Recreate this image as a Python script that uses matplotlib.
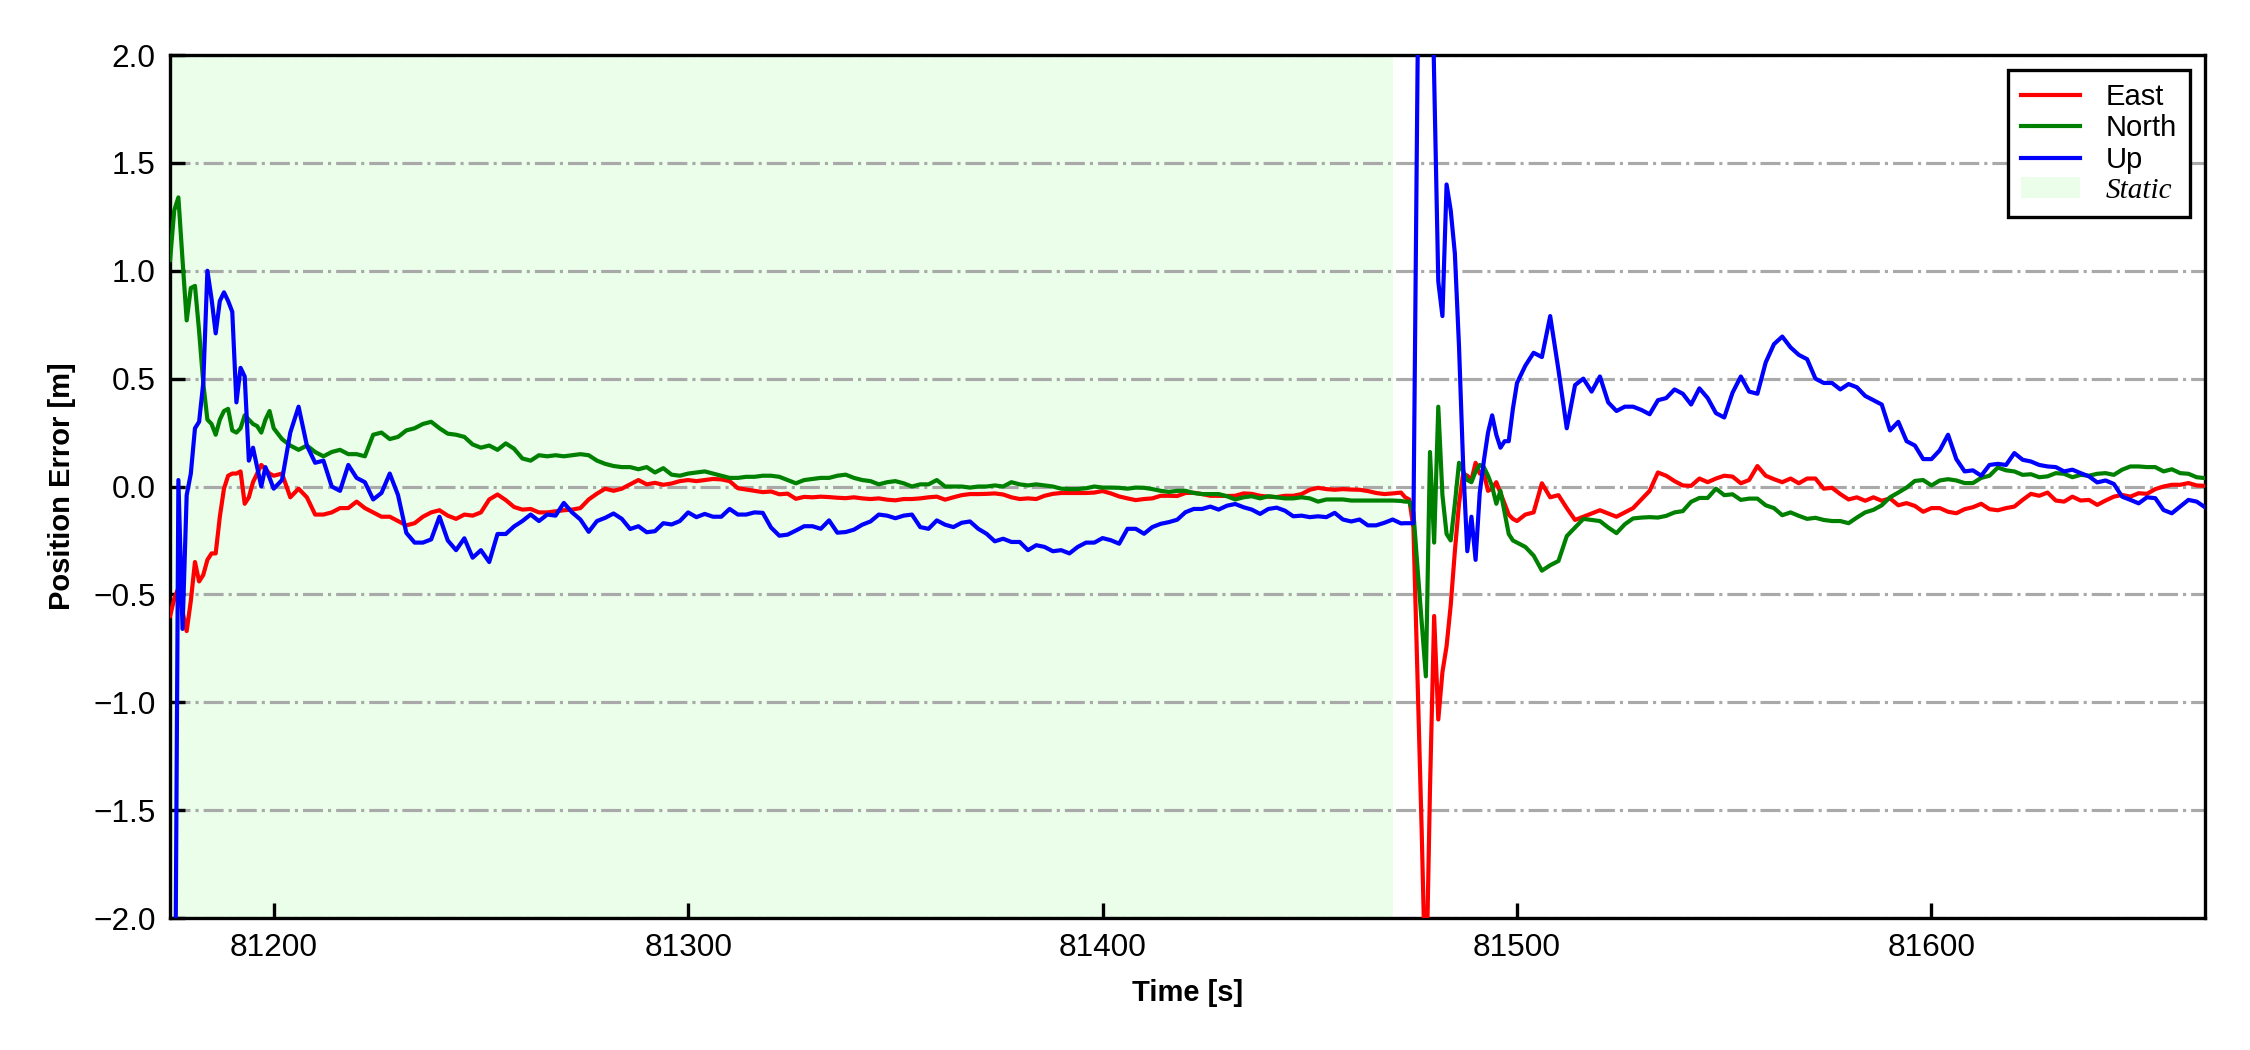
import numpy as np
import matplotlib
matplotlib.use("Agg")
import matplotlib.pyplot as plt
from matplotlib.patches import Patch

plt.rcParams['font.family'] = ['Liberation Sans', 'DejaVu Sans']

# sampling grid: 1 s at the start and around the re-convergence, 2 s elsewhere
time_segments = [(81175, 81200, 1), (81202, 81472, 2), (81473, 81500, 1), (81502, 81666, 2)]
time = np.concatenate([np.arange(a, b + 1, s) for a, b, s in time_segments])

static_start = 81175
static_end = 81470

east = [
    # 81175-81200
    -0.60, -0.52, -0.47, -0.58, -0.67, -0.53, -0.35, -0.44, -0.41, -0.34, -0.31, -0.31, -0.14,
    -0.01, 0.05, 0.06, 0.06, 0.07, -0.08, -0.05, 0.02, 0.06, 0.10, 0.08, 0.06, 0.05,
    # 81202-81472
    0.06, -0.05, -0.01, -0.05, -0.13, -0.13, -0.12, -0.10, -0.10, -0.07, -0.10, -0.12, -0.14, -0.14, -0.16,
    -0.18, -0.17, -0.14, -0.12, -0.11, -0.135, -0.15, -0.13, -0.135, -0.12,
    -0.06, -0.037, -0.063, -0.095, -0.107, -0.104, -0.12, -0.12, -0.115, -0.11,
    -0.107, -0.1, -0.06, -0.033, -0.01, -0.02, -0.01, 0.01, 0.03, 0.01,
    0.017, 0.008, 0.014, 0.025, 0.03, 0.025, 0.03, 0.035, 0.033, 0.025,
    -0.008, -0.014, -0.02, -0.026, -0.023, -0.036, -0.033, -0.057, -0.048, -0.05,
    -0.047, -0.049, -0.052, -0.054, -0.05, -0.055, -0.058, -0.055, -0.061, -0.064,
    -0.058, -0.058, -0.055, -0.05, -0.047, -0.061, -0.05, -0.04, -0.035, -0.035,
    -0.034, -0.032, -0.037, -0.05, -0.058, -0.055, -0.058, -0.043, -0.034, -0.03,
    -0.03, -0.03, -0.03, -0.028, -0.021, -0.032, -0.046, -0.055, -0.063, -0.058,
    -0.055, -0.043, -0.043, -0.044, -0.03, -0.029, -0.035, -0.043, -0.043, -0.044,
    -0.043, -0.032, -0.034, -0.043, -0.047, -0.049, -0.043, -0.043, -0.035, -0.015,
    -0.006, -0.012, -0.015, -0.012, -0.014, -0.015, -0.021, -0.03, -0.035, -0.032, -0.028,
    # 81473-81500
    -0.05, -0.06, -0.19, -0.9, -1.6, -2.4, -1.4, -0.6, -1.08, -0.86, -0.74, -0.55, -0.30, -0.08,
    0.06, 0.05, 0.03, 0.11, 0.06, 0.06, -0.02, -0.01, 0.02, -0.03, -0.08, -0.13, -0.15, -0.16,
    # 81502-81666
    -0.13, -0.12, 0.015, -0.05, -0.04, -0.10, -0.155, -0.14, -0.125, -0.11,
    -0.125, -0.14, -0.12, -0.10, -0.06, -0.02, 0.065, 0.05, 0.025, 0.005,
    0.003, 0.037, 0.02, 0.037, 0.05, 0.046, 0.015, 0.03, 0.095, 0.05,
    0.034, 0.02, 0.037, 0.015, 0.037, 0.037, -0.01, -0.006, -0.035, -0.06,
    -0.05, -0.066, -0.05, -0.066, -0.055, -0.087, -0.077, -0.09, -0.117, -0.10,
    -0.10, -0.117, -0.124, -0.105, -0.096, -0.08, -0.105, -0.11, -0.10, -0.093,
    -0.062, -0.034, -0.043, -0.028, -0.065, -0.07, -0.047, -0.065, -0.062, -0.085,
    -0.065, -0.047, -0.039, -0.047, -0.031, -0.034, -0.012, 0.0, 0.008, 0.008,
    0.016, 0.005, 0.003,
]

north = [
    # 81175-81200
    1.05, 1.28, 1.34, 1.05, 0.77, 0.92, 0.93, 0.72, 0.48, 0.31, 0.29, 0.24, 0.31,
    0.35, 0.36, 0.26, 0.25, 0.27, 0.33, 0.31, 0.29, 0.28, 0.25, 0.31, 0.35, 0.27,
    # 81202-81472
    0.22, 0.19, 0.17, 0.19, 0.16, 0.14, 0.16, 0.17, 0.15, 0.15, 0.14, 0.24, 0.25, 0.22, 0.23,
    0.26, 0.27, 0.29, 0.30, 0.27, 0.245, 0.24, 0.23, 0.195, 0.18,
    0.19, 0.17, 0.20, 0.175, 0.13, 0.12, 0.145, 0.14, 0.145, 0.14,
    0.145, 0.15, 0.145, 0.12, 0.105, 0.095, 0.09, 0.09, 0.08, 0.09,
    0.065, 0.085, 0.055, 0.05, 0.06, 0.065, 0.07, 0.06, 0.05, 0.04,
    0.04, 0.045, 0.045, 0.05, 0.05, 0.045, 0.03, 0.015, 0.03, 0.035,
    0.04, 0.04, 0.05, 0.055, 0.04, 0.03, 0.025, 0.01, 0.02, 0.025,
    0.015, 0.0, 0.01, 0.01, 0.03, 0.0, 0.0, 0.0, -0.005, 0.0,
    0.0, 0.005, 0.0, 0.02, 0.01, 0.005, 0.01, 0.005, 0.0, -0.01,
    -0.012, -0.012, -0.008, 0.0, -0.005, -0.005, -0.006, -0.01, -0.005, -0.006,
    -0.012, -0.02, -0.025, -0.02, -0.02, -0.03, -0.035, -0.035, -0.035, -0.045,
    -0.06, -0.05, -0.045, -0.055, -0.045, -0.05, -0.055, -0.055, -0.05, -0.055,
    -0.07, -0.06, -0.06, -0.06, -0.065, -0.065, -0.065, -0.065, -0.065, -0.065, -0.067,
    # 81473-81500
    -0.07, -0.07, -0.12, -0.38, -0.63, -0.88, 0.16, -0.26, 0.37, -0.04, -0.22, -0.25, -0.08, 0.11,
    0.07, 0.03, 0.02, 0.07, 0.10, 0.09, 0.05, 0.0, -0.08, -0.02, -0.12, -0.22, -0.25, -0.26,
    # 81502-81666
    -0.28, -0.32, -0.39, -0.365, -0.345, -0.23, -0.19, -0.15, -0.155, -0.16,
    -0.19, -0.216, -0.175, -0.148, -0.144, -0.142, -0.144, -0.136, -0.12, -0.114,
    -0.071, -0.053, -0.053, -0.01, -0.04, -0.036, -0.062, -0.056, -0.056, -0.087,
    -0.10, -0.133, -0.12, -0.136, -0.15, -0.145, -0.155, -0.16, -0.16, -0.17,
    -0.144, -0.12, -0.108, -0.087, -0.05, -0.028, -0.005, 0.026, 0.03, 0.005,
    0.028, 0.034, 0.028, 0.016, 0.016, 0.04, 0.05, 0.088, 0.075, 0.07,
    0.054, 0.057, 0.043, 0.047, 0.062, 0.059, 0.043, 0.054, 0.05, 0.059,
    0.062, 0.054, 0.078, 0.093, 0.093, 0.09, 0.09, 0.07, 0.08, 0.062,
    0.059, 0.043, 0.039,
]

up = [
    # 81175-81200
    -2.6, -3.2, 0.03, -0.66, -0.04, 0.06, 0.27, 0.30, 0.48, 1.0, 0.87, 0.71, 0.86,
    0.90, 0.86, 0.81, 0.39, 0.55, 0.51, 0.12, 0.18, 0.09, 0.0, 0.09, 0.04, -0.01,
    # 81202-81472
    0.03, 0.25, 0.37, 0.19, 0.11, 0.12, 0.0, -0.02, 0.10, 0.04, 0.02, -0.06, -0.03, 0.06, -0.04,
    -0.215, -0.26, -0.26, -0.245, -0.14, -0.25, -0.295, -0.24, -0.33, -0.295,
    -0.35, -0.22, -0.22, -0.185, -0.16, -0.13, -0.16, -0.13, -0.135, -0.076,
    -0.12, -0.153, -0.21, -0.16, -0.145, -0.125, -0.15, -0.197, -0.184, -0.212,
    -0.207, -0.17, -0.176, -0.16, -0.12, -0.142, -0.127, -0.14, -0.14, -0.104,
    -0.13, -0.13, -0.12, -0.122, -0.19, -0.228, -0.223, -0.204, -0.184, -0.184,
    -0.196, -0.157, -0.214, -0.211, -0.2, -0.177, -0.162, -0.13, -0.135, -0.147,
    -0.135, -0.13, -0.188, -0.196, -0.157, -0.177, -0.188, -0.168, -0.162, -0.196,
    -0.219, -0.254, -0.242, -0.257, -0.257, -0.295, -0.272, -0.28, -0.3, -0.295,
    -0.31, -0.28, -0.26, -0.26, -0.239, -0.249, -0.265, -0.196, -0.196, -0.219,
    -0.188, -0.173, -0.165, -0.154, -0.119, -0.104, -0.104, -0.093, -0.107, -0.089,
    -0.081, -0.096, -0.107, -0.127, -0.104, -0.098, -0.112, -0.138, -0.135, -0.142,
    -0.138, -0.142, -0.122, -0.153, -0.162, -0.153, -0.18, -0.18, -0.168, -0.153, -0.171,
    # 81473-81500
    -0.17, -0.17, -0.17, 1.95, 3.6, 3.8, 2.9, 1.9, 0.95, 0.79, 1.40, 1.28, 1.08, 0.65,
    0.10, -0.30, -0.14, -0.34, -0.03, 0.12, 0.25, 0.33, 0.24, 0.18, 0.21, 0.21, 0.36, 0.48,
    # 81502-81666
    0.56, 0.62, 0.60, 0.79, 0.54, 0.27, 0.47, 0.50, 0.44, 0.51,
    0.39, 0.35, 0.37, 0.37, 0.355, 0.335, 0.40, 0.41, 0.45, 0.43,
    0.38, 0.455, 0.41, 0.34, 0.32, 0.435, 0.51, 0.44, 0.43, 0.575,
    0.66, 0.695, 0.645, 0.61, 0.59, 0.50, 0.48, 0.48, 0.45, 0.475,
    0.46, 0.42, 0.40, 0.38, 0.26, 0.30, 0.21, 0.19, 0.127, 0.127,
    0.168, 0.24, 0.127, 0.07, 0.075, 0.05, 0.10, 0.105, 0.10, 0.155,
    0.124, 0.116, 0.10, 0.093, 0.09, 0.07, 0.078, 0.062, 0.047, 0.019,
    0.028, 0.012, -0.047, -0.062, -0.078, -0.05, -0.054, -0.109, -0.124, -0.093,
    -0.062, -0.07, -0.096,
]

yticks = [-2.0, -1.5, -1.0, -0.5, 0.0, 0.5, 1.0, 1.5, 2.0]
xticks = [81200, 81300, 81400, 81500, 81600]

fig = plt.figure(figsize=(7.5, 3.5))
ax = fig.add_axes([0.0756, 0.1257, 0.9044, 0.8219])

ax.axvspan(static_start, static_end, color='palegreen', alpha=0.2, lw=0, zorder=0)
ax.plot(time, east, color='r', lw=1.0, label='East', zorder=3)
ax.plot(time, north, color='g', lw=1.0, label='North', zorder=3)
ax.plot(time, up, color='b', lw=1.0, label='Up', zorder=3)

ax.set_xlim(81175, 81666)
ax.set_ylim(-2, 2)
ax.set_xticks(xticks)
ax.set_yticks(yticks)
ax.yaxis.grid(True, linestyle='-.', color='darkgray', lw=0.75, zorder=1)
ax.set_axisbelow(True)

ax.tick_params(direction='in', length=3.5, width=0.8, labelsize=7.6)
for sp in ax.spines.values():
    sp.set_linewidth(0.8)

ax.set_xlabel('Time [s]', fontsize=7, fontweight='bold')
ax.set_ylabel('Position Error [m]', fontsize=7, fontweight='bold')

handles, labels = ax.get_legend_handles_labels()
handles.append(Patch(facecolor='palegreen', alpha=0.2, edgecolor='none'))
labels.append('Static')
leg = ax.legend(handles, labels, loc='upper right', fontsize=7, fancybox=False,
                edgecolor='black', framealpha=1.0, borderaxespad=0.5,
                labelspacing=0.12, handlelength=2.0, handletextpad=0.9, borderpad=0.45)
leg.get_frame().set_linewidth(0.8)
st = leg.get_texts()[3]
st.set_fontfamily('Liberation Serif')
st.set_fontstyle('italic')

fig.savefig('out.png', dpi=300)
